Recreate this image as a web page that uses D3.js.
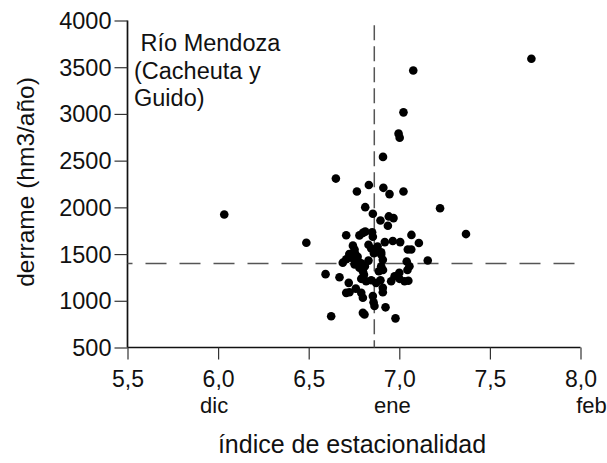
<!DOCTYPE html>
<html>
<head>
<meta charset="utf-8">
<script src="https://cdn.jsdelivr.net/npm/d3@7"></script>
<style>
  html, body { margin: 0; padding: 0; background: #fff; }
  svg { display: block; }
  text { font-family: "Liberation Sans", Arial, sans-serif; fill: #111; }
</style>
</head>
<body>
<svg id="chart" width="607" height="463"></svg>
<script>
// Seasonality index (x) vs annual discharge in hm3 (y), Río Mendoza
const indice = [
  6.034, 7.729, 7.077, 7.023, 6.996, 7.002, 6.910, 6.650, 6.832, 6.912,
  6.766, 6.946, 7.023, 7.225, 6.812, 6.854, 6.896, 6.942, 6.968, 6.937,
  7.368, 6.487, 6.707, 6.780, 6.799, 6.812, 6.850, 6.854, 6.920, 6.964,
  7.005, 7.067, 7.108, 6.744, 6.753, 6.830, 6.845, 7.047, 7.066, 6.860,
  6.900, 6.724, 6.756, 7.157, 6.707, 6.688, 6.734, 6.753, 6.771, 6.780,
  6.799, 6.900, 6.909, 6.900, 6.887, 7.041, 7.056, 7.045, 6.593, 6.670,
  6.721, 6.725, 6.707, 6.790, 6.817, 6.845, 6.872, 6.896, 6.955, 6.974,
  7.001, 7.029, 7.050, 6.790, 6.799, 6.854, 6.858, 6.863, 6.909, 6.909,
  6.924, 6.624, 6.799, 6.808, 6.979, 6.770, 6.790, 6.805, 6.910, 6.880,
  7.000, 6.760, 6.830, 6.810
];
const derrame = [
  1924, 3590, 3465, 3017, 2789, 2746, 2540, 2308, 2240, 2209,
  2170, 2142, 2170, 1990, 2002, 1931, 1860, 1903, 1885, 1803,
  1714, 1621, 1702, 1700, 1727, 1740, 1734, 1686, 1628, 1640,
  1628, 1705, 1618, 1590, 1549, 1600, 1559, 1549, 1549, 1510,
  1518, 1500, 1505, 1431, 1445, 1408, 1462, 1390, 1425, 1353,
  1316, 1495, 1440, 1370, 1316, 1420, 1370, 1330, 1285, 1252,
  1192, 1092, 1085, 1235, 1209, 1220, 1192, 1220, 1209, 1263,
  1235, 1209, 1215, 1085, 1032, 1050, 985, 945, 1139, 1092,
  930, 835, 871, 853, 812, 1470, 1400, 1280, 1330, 1580,
  1300, 1130, 1430, 1370
];

// Axis ticks and month labels under some of them
const xTicks = [5.5, 6.0, 6.5, 7.0, 7.5, 8.0];
const yTicks = [500, 1000, 1500, 2000, 2500, 3000, 3500, 4000];
const meses = [{v: 6.0, t: "dic"}, {v: 7.0, t: "ene"}, {v: 8.0, t: "feb"}];

// Reference lines (means of both variables)
const mediaIndice = 6.862;
const mediaDerrame = 1398;

const titulo = ["\u00A0Río Mendoza", "(Cacheuta y", "Guido)"];

const svg = d3.select("#chart");
const x = d3.scaleLinear().domain([5.5, 8.0]).range([127.5, 580.5]);
const y = d3.scaleLinear().domain([500, 4000]).range([347.5, 20.5]);

const fmt = d => d3.format(".1f")(d).replace(".", ",");
const FS = 23.5;

// y axis
const gy = svg.append("g").attr("transform", `translate(${x(5.5)},0)`)
  .call(d3.axisLeft(y).tickValues(yTicks).tickSize(13).tickPadding(3).tickFormat(d3.format("d")));
gy.select(".domain").attr("stroke", "#111").attr("stroke-width", 1.7).attr("d", `M0,${y(4000)}V${y(500)}`);
gy.selectAll(".tick line").attr("stroke", "#333").attr("stroke-width", 1.2);
gy.selectAll(".tick text").attr("font-size", FS).attr("fill", "#111")
  .attr("font-family", "Liberation Sans, Arial, sans-serif").attr("dy", "0.34em");

// x axis
const gx = svg.append("g").attr("transform", `translate(0,${y(500)})`)
  .call(d3.axisBottom(x).tickValues(xTicks).tickSize(12).tickPadding(11).tickFormat(fmt));
gx.select(".domain").attr("stroke", "#111").attr("stroke-width", 1.7).attr("d", `M${x(5.5)},0H${x(8.0)}`);
gx.selectAll(".tick line").attr("stroke", "#333").attr("stroke-width", 1.2);
gx.selectAll(".tick text").attr("font-size", 23).attr("fill", "#111")
  .attr("font-family", "Liberation Sans, Arial, sans-serif");

// month names below the matching ticks
const mesDx = {dic: -4, ene: -7, feb: 11};
svg.append("g").selectAll("text").data(meses).join("text")
  .attr("x", d => x(d.v) + mesDx[d.t]).attr("y", 413)
  .attr("text-anchor", "middle").attr("font-size", 22)
  .text(d => d.t);

// dashed mean lines
svg.append("line")
  .attr("x1", x(mediaIndice)).attr("x2", x(mediaIndice))
  .attr("y1", y(3950)).attr("y2", y(500))
  .attr("stroke", "#555").attr("stroke-width", 1.5).attr("stroke-dasharray", "15,6");
svg.append("line")
  .attr("x1", x(5.5)).attr("x2", x(8.02))
  .attr("y1", y(mediaDerrame)).attr("y2", y(mediaDerrame))
  .attr("stroke", "#555").attr("stroke-width", 1.5).attr("stroke-dasharray", "21,13")
  .attr("stroke-dashoffset", -18);

// points
svg.append("g").selectAll("circle").data(indice).join("circle")
  .attr("cx", d => x(d)).attr("cy", (d, i) => y(derrame[i]))
  .attr("r", 4.3).attr("fill", "#000");

// annotation
svg.append("text").attr("font-size", FS)
  .selectAll("tspan").data(titulo).join("tspan")
  .attr("x", 134).attr("y", (d, i) => 51 + i * 27.5)
  .text(d => d);

// axis titles
svg.append("text").attr("x", 352).attr("y", 453).attr("text-anchor", "middle")
  .attr("font-size", 25).text("índice de estacionalidad");
svg.append("text").attr("transform", `translate(34,182) rotate(-90)`)
  .attr("text-anchor", "middle").attr("font-size", 24.5).text("derrame (hm3/año)");
</script>
</body>
</html>
